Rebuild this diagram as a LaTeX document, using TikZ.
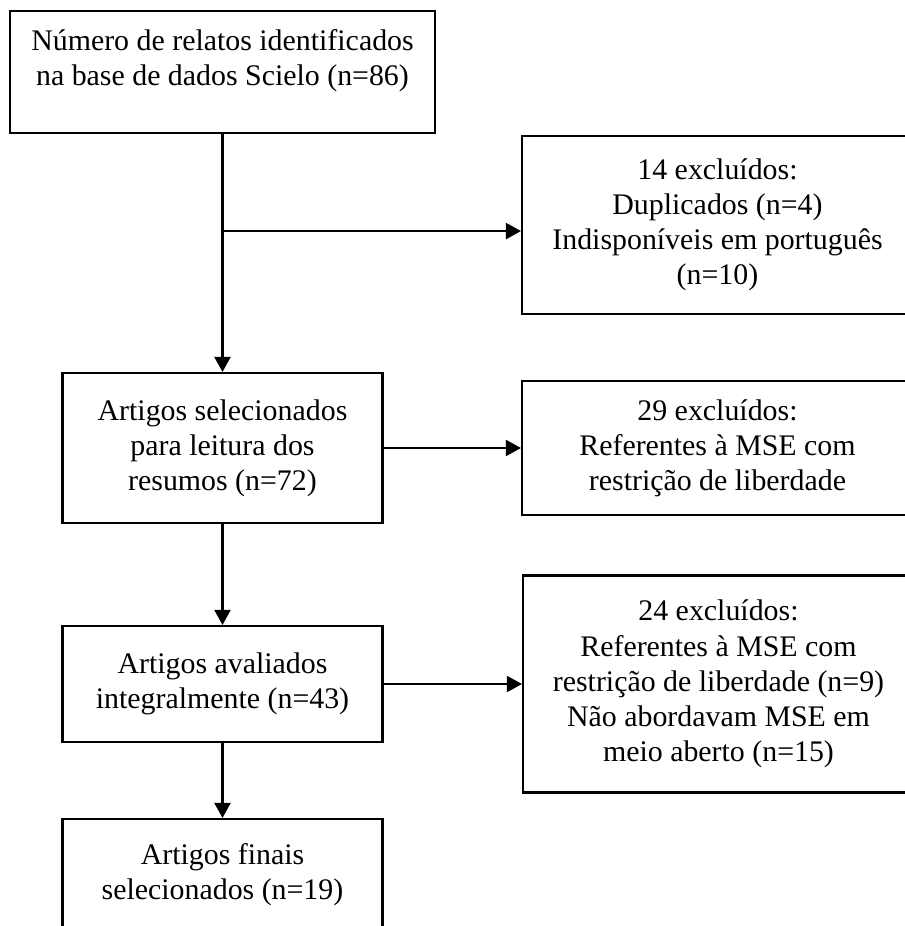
\documentclass[tikz,border=0pt]{standalone}
\usepackage{fontspec}
\setmainfont{Liberation Serif}
\usetikzlibrary{arrows.meta}
\tikzstyle{source} = [rectangle, minimum width=8.5cm, minimum height=2.44cm, align=center, draw=black, line width=1.2pt, font=\fontsize{17pt}{20pt}\selectfont]
\tikzstyle{stage} = [rectangle, minimum width=6.4cm, align=center, draw=black, line width=1.2pt, font=\fontsize{17pt}{20pt}\selectfont]
\tikzstyle{excluded} = [rectangle, minimum width=7.82cm, align=center, draw=black, line width=1.2pt, font=\fontsize{17pt}{20pt}\selectfont]
\tikzstyle{arrow} = [line width=1.2pt,-{Triangle[length=0.3cm,width=0.32cm]}]

\begin{document}
\begin{tikzpicture}[node distance=2cm]
\useasboundingbox (0,0) rectangle (18.1,-18.52);
\clip (0,0) rectangle (18.1,-18.52);

\node (ident) [source, text depth=0.58cm] at (4.45,-1.44) {Número de relatos identificados\\na base de dados Scielo (n=86)};
\node (sel) [stage, minimum height=3cm, below of=ident, yshift=-5.52cm] {Artigos selecionados\\para leitura dos\\resumos (n=72)};
\node (aval) [stage, minimum height=2.32cm, below of=sel, yshift=-2.72cm] {Artigos avaliados\\integralmente (n=43)};
\node (final) [stage, minimum height=2.24cm, below of=aval, yshift=-1.82cm] {Artigos finais\\selecionados (n=19)};
\node (excl1) [excluded, minimum height=3.56cm, right of=ident, xshift=7.9cm, yshift=-3.06cm] {14 excluídos:\\Duplicados (n=4)\\Indisponíveis em português\\(n=10)};
\node (excl2) [excluded, minimum height=2.68cm, right of=sel, xshift=7.9cm] {29 excluídos:\\Referentes à MSE com\\restrição de liberdade};
\node (excl3) [excluded, minimum height=4.34cm, right of=aval, xshift=7.92cm] {24 excluídos:\\Referentes à MSE com\\restrição de liberdade (n=9)\\Não abordavam MSE em\\meio aberto (n=15)};

\coordinate (split) at ([yshift=-1.94cm]ident.south);

\draw [arrow] (ident) -- (sel);
\draw [arrow] (split) -- (split -| excl1.west);
\draw [arrow] (sel) -- (sel -| excl2.west);
\draw [arrow] (sel) -- (aval);
\draw [arrow] (aval) -- (aval -| excl3.west);
\draw [arrow] (aval) -- (final);

\end{tikzpicture}
\end{document}
